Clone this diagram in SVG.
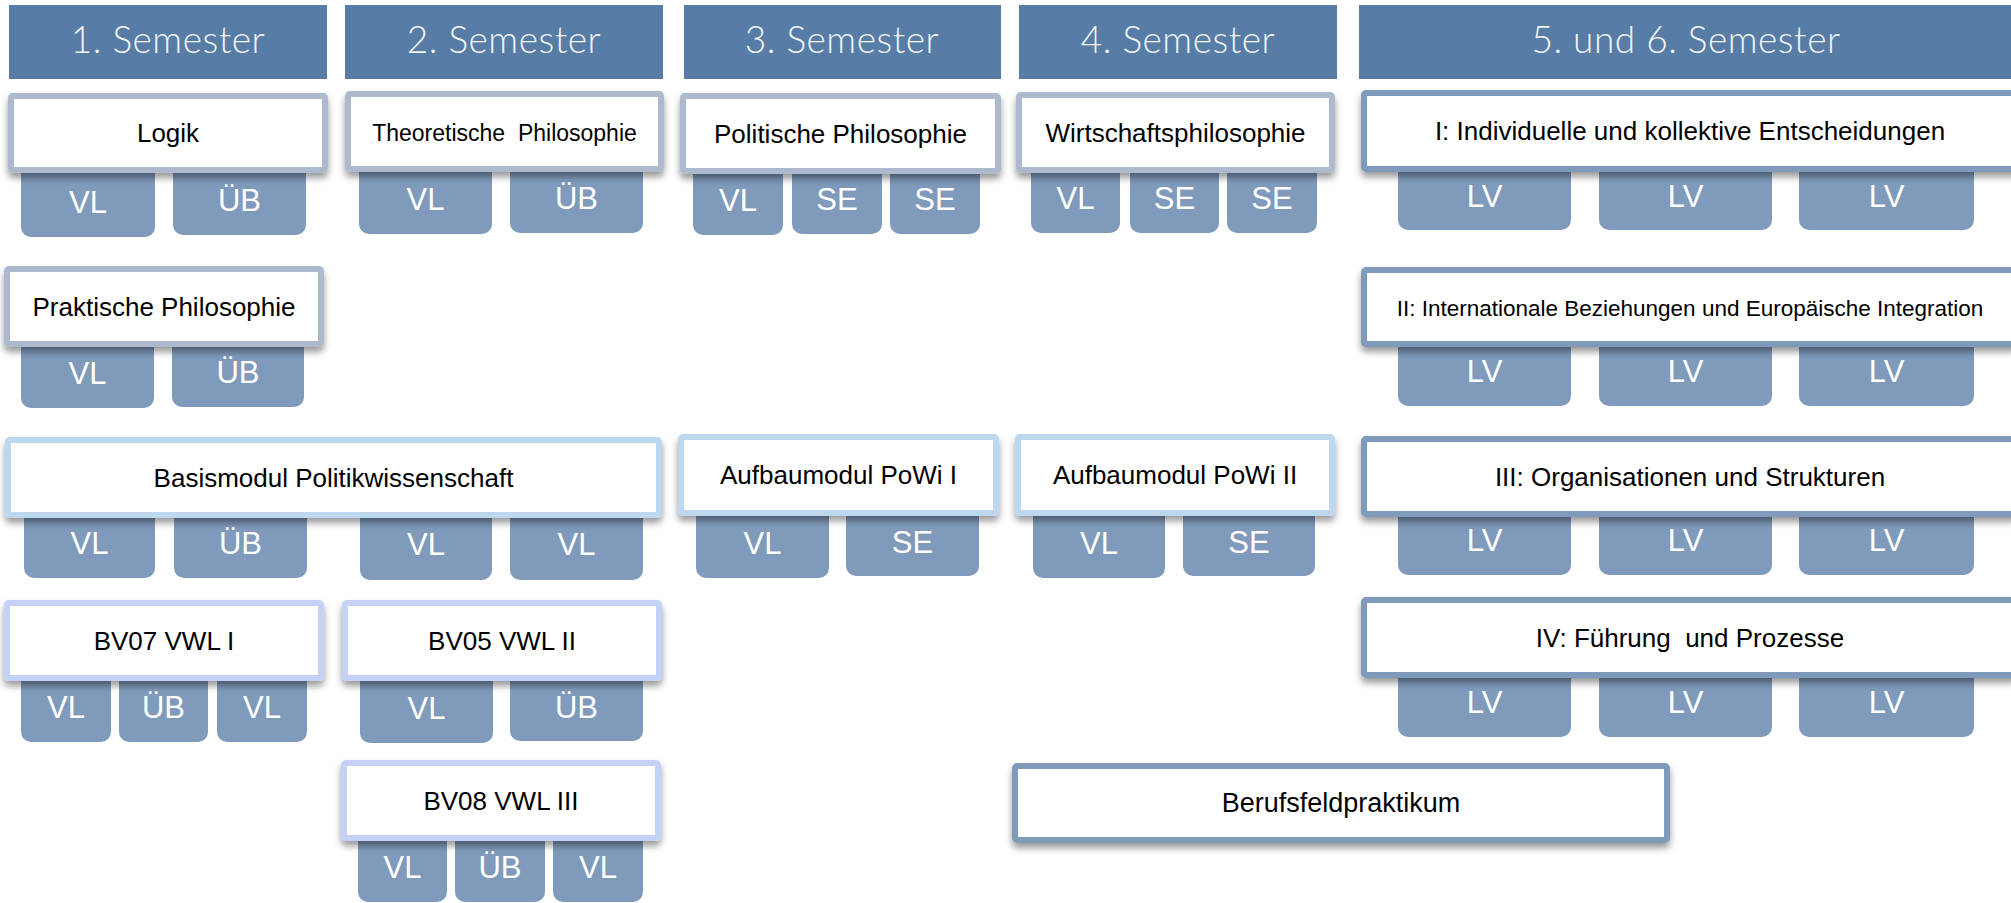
<svg xmlns="http://www.w3.org/2000/svg" width="2011" height="903" viewBox="0 0 2011 903">
<style>
.hd{fill:#577ca5}
.ht{font-family:Lato,"Open Sans",sans-serif;font-weight:300;font-size:37px;fill:#f2f5f9;text-anchor:middle;letter-spacing:0.5px}
.tab{fill:#7f9abb}
.tt{font-family:"Liberation Sans",Arial,sans-serif;font-size:31px;fill:#ffffff;text-anchor:middle}
.box{fill:#ffffff;stroke-width:6;filter:url(#sh)}
.bp{stroke:#adb9cc}
.bw{stroke:#bdd7ee}
.bv{stroke:#c5d2f8}
.bs{stroke:#7f9abb}
.lt{font-family:"Liberation Sans",Arial,sans-serif;font-size:26px;fill:#000;text-anchor:middle}
</style>
<defs>
<filter id="sh" x="-5%" y="-20%" width="110%" height="160%">
<feDropShadow dx="0" dy="5" stdDeviation="3.5" flood-color="#000" flood-opacity="0.4"/>
</filter>
</defs>
<rect width="2011" height="903" fill="#ffffff"/>
<g id="headers">
<g id="h1"><rect class="hd" x="9" y="5" width="318" height="74"/><text class="ht" x="168" y="53">1. Semester</text></g>
<g id="h2"><rect class="hd" x="345" y="5" width="318" height="74"/><text class="ht" x="504" y="53">2. Semester</text></g>
<g id="h3"><rect class="hd" x="684" y="5" width="317" height="74"/><text class="ht" x="842" y="53">3. Semester</text></g>
<g id="h4"><rect class="hd" x="1019" y="5" width="318" height="74"/><text class="ht" x="1178" y="53">4. Semester</text></g>
<g id="h5"><rect class="hd" x="1359" y="5" width="652" height="74"/><text class="ht" x="1686" y="53">5. und 6. Semester</text></g>
</g>
<g id="logik">
<rect class="tab" x="21" y="153" width="134" height="84" rx="10"/><text class="tt" x="88" y="213">VL</text>
<rect class="tab" x="173" y="153" width="133" height="82" rx="10"/><text class="tt" x="239.5" y="211">ÜB</text>
<rect class="box bp" x="11" y="96" width="314" height="74" rx="2"/><text class="lt" x="168" y="142">Logik</text>
</g>
<g id="theoretische">
<rect class="tab" x="359" y="152" width="133" height="82" rx="10"/><text class="tt" x="425.5" y="210">VL</text>
<rect class="tab" x="510" y="152" width="133" height="81" rx="10"/><text class="tt" x="576.5" y="209">ÜB</text>
<rect class="box bp" x="348" y="94" width="313" height="75" rx="2"/><text class="lt" x="504.5" y="140.5" style="font-size:23px" xml:space="preserve">Theoretische  Philosophie</text>
</g>
<g id="politische">
<rect class="tab" x="693" y="154" width="90" height="81" rx="10"/><text class="tt" x="738" y="211">VL</text>
<rect class="tab" x="792" y="154" width="90" height="80" rx="10"/><text class="tt" x="837" y="210">SE</text>
<rect class="tab" x="890" y="154" width="90" height="80" rx="10"/><text class="tt" x="935" y="210">SE</text>
<rect class="box bp" x="683" y="96" width="315" height="75" rx="2"/><text class="lt" x="840.5" y="142.5">Politische Philosophie</text>
</g>
<g id="wirtschaft">
<rect class="tab" x="1031" y="153" width="89" height="80" rx="10"/><text class="tt" x="1075.5" y="209">VL</text>
<rect class="tab" x="1130" y="153" width="89" height="80" rx="10"/><text class="tt" x="1174.5" y="209">SE</text>
<rect class="tab" x="1227" y="153" width="90" height="80" rx="10"/><text class="tt" x="1272" y="209">SE</text>
<rect class="box bp" x="1019" y="95" width="313" height="75" rx="2"/><text class="lt" x="1175.5" y="141.5">Wirtschaftsphilosophie</text>
</g>
<g id="mod1">
<rect class="tab" x="1398" y="152" width="173" height="78" rx="10"/><text class="tt" x="1484.5" y="207">LV</text>
<rect class="tab" x="1599" y="152" width="173" height="78" rx="10"/><text class="tt" x="1685.5" y="207">LV</text>
<rect class="tab" x="1799" y="152" width="175" height="78" rx="10"/><text class="tt" x="1886.5" y="207">LV</text>
<rect class="box bs" x="1364" y="93" width="653" height="76" rx="2"/><text class="lt" x="1690" y="140">I: Individuelle und kollektive Entscheidungen</text>
</g>
<g id="praktische">
<rect class="tab" x="21" y="327" width="133" height="81" rx="10"/><text class="tt" x="87.5" y="384">VL</text>
<rect class="tab" x="172" y="327" width="132" height="80" rx="10"/><text class="tt" x="238" y="383">ÜB</text>
<rect class="box bp" x="7" y="269" width="314" height="75" rx="2"/><text class="lt" x="164" y="315.5">Praktische Philosophie</text>
</g>
<g id="mod2">
<rect class="tab" x="1398" y="327" width="173" height="79" rx="10"/><text class="tt" x="1484.5" y="382">LV</text>
<rect class="tab" x="1599" y="327" width="173" height="79" rx="10"/><text class="tt" x="1685.5" y="382">LV</text>
<rect class="tab" x="1799" y="327" width="175" height="79" rx="10"/><text class="tt" x="1886.5" y="382">LV</text>
<rect class="box bs" x="1364" y="270" width="653" height="74" rx="2"/><text class="lt" x="1690" y="316" style="font-size:22.5px">II: Internationale Beziehungen und Europäische Integration</text>
</g>
<g id="basismodul">
<rect class="tab" x="24" y="498" width="131" height="80" rx="10"/><text class="tt" x="89.5" y="554">VL</text>
<rect class="tab" x="174" y="498" width="133" height="80" rx="10"/><text class="tt" x="240.5" y="554">ÜB</text>
<rect class="tab" x="360" y="498" width="132" height="82" rx="10"/><text class="tt" x="426" y="555">VL</text>
<rect class="tab" x="510" y="498" width="133" height="82" rx="10"/><text class="tt" x="576.5" y="555">VL</text>
<rect class="box bw" x="8" y="440" width="651" height="75" rx="2"/><text class="lt" x="333.5" y="486.5">Basismodul Politikwissenschaft</text>
</g>
<g id="aufbau1">
<rect class="tab" x="696" y="496" width="133" height="82" rx="10"/><text class="tt" x="762.5" y="554">VL</text>
<rect class="tab" x="846" y="496" width="133" height="80" rx="10"/><text class="tt" x="912.5" y="553">SE</text>
<rect class="box bw" x="681" y="437" width="315" height="76" rx="2"/><text class="lt" x="838.5" y="484">Aufbaumodul PoWi I</text>
</g>
<g id="aufbau2">
<rect class="tab" x="1033" y="496" width="132" height="82" rx="10"/><text class="tt" x="1099" y="554">VL</text>
<rect class="tab" x="1183" y="496" width="132" height="80" rx="10"/><text class="tt" x="1249" y="553">SE</text>
<rect class="box bw" x="1018" y="437" width="314" height="76" rx="2"/><text class="lt" x="1175" y="484">Aufbaumodul PoWi II</text>
</g>
<g id="mod3">
<rect class="tab" x="1398" y="497" width="173" height="78" rx="10"/><text class="tt" x="1484.5" y="551">LV</text>
<rect class="tab" x="1599" y="497" width="173" height="78" rx="10"/><text class="tt" x="1685.5" y="551">LV</text>
<rect class="tab" x="1799" y="497" width="175" height="78" rx="10"/><text class="tt" x="1886.5" y="551">LV</text>
<rect class="box bs" x="1364" y="439" width="653" height="75" rx="2"/><text class="lt" x="1690" y="485.5">III: Organisationen und Strukturen</text>
</g>
<g id="bv07">
<rect class="tab" x="21" y="661" width="90" height="81" rx="10"/><text class="tt" x="66" y="718">VL</text>
<rect class="tab" x="119" y="661" width="89" height="81" rx="10"/><text class="tt" x="163.5" y="718">ÜB</text>
<rect class="tab" x="217" y="661" width="90" height="81" rx="10"/><text class="tt" x="262" y="718">VL</text>
<rect class="box bv" x="7" y="603" width="314" height="75" rx="2"/><text class="lt" x="164" y="649.5">BV07 VWL I</text>
</g>
<g id="bv05">
<rect class="tab" x="360" y="661" width="133" height="82" rx="10"/><text class="tt" x="426.5" y="719">VL</text>
<rect class="tab" x="510" y="661" width="133" height="80" rx="10"/><text class="tt" x="576.5" y="718">ÜB</text>
<rect class="box bv" x="345" y="603" width="314" height="75" rx="2"/><text class="lt" x="502" y="649.5">BV05 VWL II</text>
</g>
<g id="mod4">
<rect class="tab" x="1398" y="658" width="173" height="79" rx="10"/><text class="tt" x="1484.5" y="713">LV</text>
<rect class="tab" x="1599" y="658" width="173" height="79" rx="10"/><text class="tt" x="1685.5" y="713">LV</text>
<rect class="tab" x="1799" y="658" width="175" height="79" rx="10"/><text class="tt" x="1886.5" y="713">LV</text>
<rect class="box bs" x="1364" y="600" width="653" height="75" rx="2"/><text class="lt" x="1690" y="646.5" xml:space="preserve">IV: Führung  und Prozesse</text>
</g>
<g id="bv08">
<rect class="tab" x="358" y="821" width="89" height="81" rx="10"/><text class="tt" x="402.5" y="878">VL</text>
<rect class="tab" x="455" y="821" width="90" height="81" rx="10"/><text class="tt" x="500" y="878">ÜB</text>
<rect class="tab" x="553" y="821" width="90" height="81" rx="10"/><text class="tt" x="598" y="878">VL</text>
<rect class="box bv" x="344" y="763" width="314" height="75" rx="2"/><text class="lt" x="501" y="809.5">BV08 VWL III</text>
</g>
<g id="berufsfeld">
<rect class="box bs" x="1015" y="766" width="652" height="74" rx="2"/><text class="lt" x="1341" y="812" style="font-size:27px">Berufsfeldpraktikum</text>
</g>
<g id="connectors"/>
</svg>
